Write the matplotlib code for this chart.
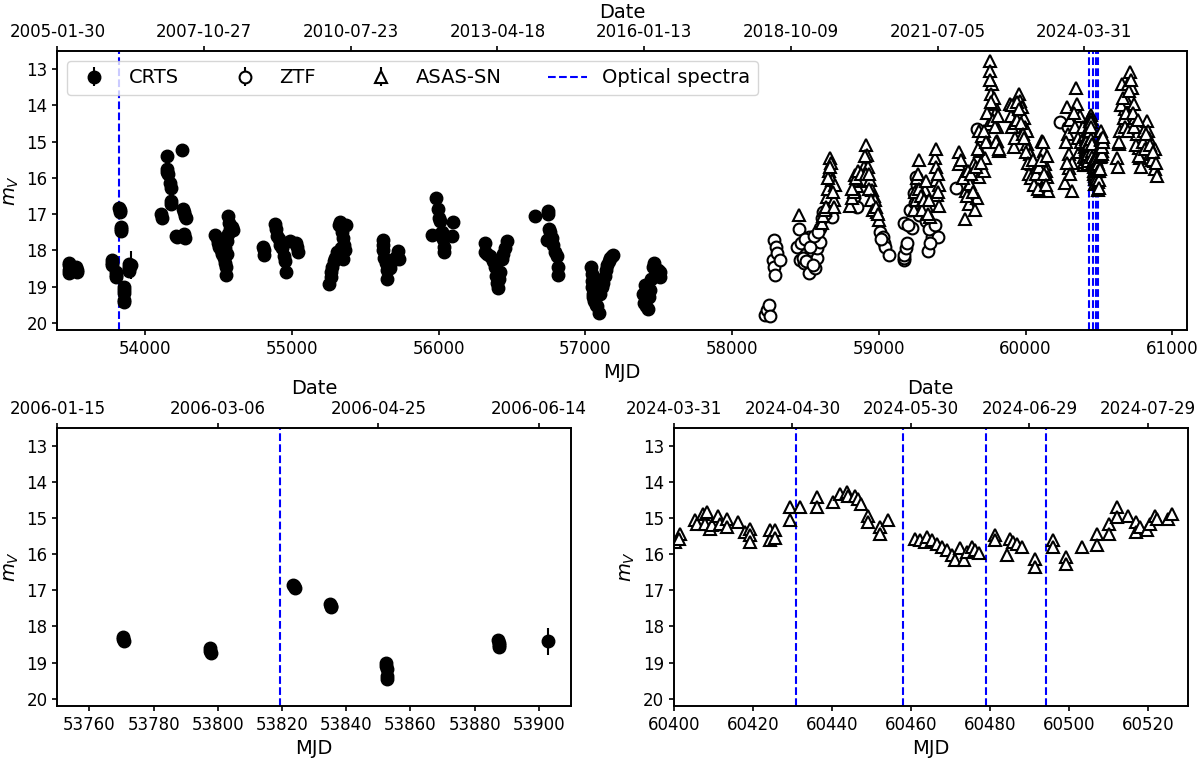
import numpy as np
import matplotlib
matplotlib.use("Agg")
import matplotlib.pyplot as plt
from datetime import datetime, timedelta

plt.rcParams['font.family'] = ['DejaVu Sans']
plt.rcParams['axes.linewidth'] = 1.2
plt.rcParams['xtick.major.width'] = 1.2
plt.rcParams['ytick.major.width'] = 1.2

# ---------------- data ----------------
crts_mjd = [53476, 53478, 53480, 53482, 53485, 53505, 53530, 53533, 53536,
            53770.4, 53770.6, 53770.8, 53797.5, 53797.7, 53797.9, 53823.5, 53823.7, 53823.9,
            53835.0, 53835.2, 53835.4, 53852.4, 53852.5, 53852.6, 53852.7, 53852.8,
            53887.4, 53887.5, 53887.6, 53887.7, 53902.8,
            54105, 54110, 54148, 54146, 54150, 54155, 54168, 54172, 54175, 54178, 54210, 54215,
            54248, 54255, 54262, 54270, 54275, 54265, 54272,
            54478, 54485, 54495, 54505, 54515, 54525, 54535, 54540, 54548, 54550, 54555, 54560,
            54565, 54570, 54580, 54590, 54600, 54545, 54555,
            54805, 54806, 54808, 54882, 54890, 54900, 54910, 54920, 54930, 54945, 54955, 54962,
            54985, 55030, 55035, 55038,
            55255, 55262, 55268, 55275, 55285, 55295, 55305, 55320, 55325, 55340, 55350, 55355,
            55360, 55345, 55365, 55335,
            55618, 55620, 55622, 55630, 55640, 55645, 55650, 55665, 55680, 55700, 55722, 55727,
            55952, 55980, 55998, 56003, 56008, 56010, 56020, 56030, 56035, 56038, 56088, 56100,
            56315, 56318, 56330, 56350, 56370, 56385, 56392, 56398, 56405, 56415, 56428, 56440,
            56450, 56463, 56410,
            56657, 56742, 56748, 56752, 56755, 56740, 56770, 56782, 56795, 56805, 56812, 56816,
            57040, 57042, 57044, 57046, 57050, 57054, 57060, 57070, 57078, 57095, 57100, 57110,
            57120, 57130, 57140, 57150, 57160, 57170, 57180, 57190, 57065, 57085,
            57395, 57400, 57407, 57412, 57425, 57430, 57440, 57450, 57460, 57470, 57480, 57495,
            57505, 57510, 57420]
crts_mag = [18.40, 18.55, 18.35, 18.62, 18.48, 18.52, 18.45, 18.60, 18.55,
            18.28, 18.34, 18.40, 18.60, 18.67, 18.74, 16.84, 16.88, 16.93,
            17.37, 17.42, 17.46, 19.00, 19.10, 19.18, 19.38, 19.44,
            18.38, 18.45, 18.52, 18.58, 18.41,
            17.00, 17.10, 15.40, 15.75, 15.85, 15.90, 16.15, 16.28, 16.65, 16.72, 17.60, 17.62,
            15.22, 16.85, 16.95, 17.05, 17.12, 17.55, 17.65,
            17.58, 17.65, 17.80, 17.90, 18.00, 18.10, 18.20, 18.35, 18.68, 18.45, 17.75, 17.55,
            17.05, 17.25, 17.40, 17.35, 17.45, 17.95, 18.10,
            17.90, 18.00, 18.12, 17.28, 17.40, 17.60, 17.70, 17.85, 17.95, 18.15, 18.30, 18.60,
            17.75, 17.80, 17.92, 18.05,
            18.92, 18.75, 18.60, 18.45, 18.30, 18.20, 18.05, 17.30, 17.22, 17.50, 17.65, 17.85,
            18.00, 18.25, 17.30, 17.95,
            17.72, 17.85, 18.00, 18.20, 18.35, 18.55, 18.80, 18.50, 18.30, 18.20, 18.02, 18.25,
            17.58, 16.55, 16.85, 17.10, 17.20, 17.55, 17.50, 17.70, 17.90, 18.05, 17.60, 17.22,
            17.80, 18.05, 18.10, 18.15, 18.30, 18.45, 18.70, 18.90, 19.05, 18.60, 18.25, 18.10,
            17.95, 17.75, 18.80,
            17.05, 17.00, 16.92, 17.40, 17.50, 17.72, 17.65, 17.85, 18.05, 18.15, 18.45, 18.68,
            18.45, 18.65, 18.85, 19.00, 19.20, 19.30, 19.40, 19.50, 19.55, 19.72, 19.20, 19.00,
            18.90, 18.70, 18.55, 18.40, 18.30, 18.20, 18.15, 18.13, 18.80, 19.10,
            19.20, 19.45, 18.95, 19.55, 19.62, 19.30, 19.10, 18.80, 18.45, 18.35, 18.55, 18.55,
            18.75, 18.60, 19.00]
crts_err = [0.06, 0.06, 0.06, 0.07, 0.06, 0.06, 0.06, 0.07, 0.06,
            0.06, 0.06, 0.06, 0.07, 0.07, 0.07, 0.05, 0.05, 0.05,
            0.05, 0.05, 0.05, 0.09, 0.10, 0.10, 0.15, 0.18,
            0.06, 0.06, 0.07, 0.07, 0.38,
            0.05, 0.05, 0.04, 0.04, 0.04, 0.04, 0.04, 0.04, 0.05, 0.05, 0.05, 0.05,
            0.04, 0.05, 0.05, 0.05, 0.05, 0.05, 0.05,
            0.05, 0.05, 0.06, 0.06, 0.06, 0.06, 0.06, 0.07, 0.08, 0.07, 0.05, 0.05,
            0.05, 0.05, 0.05, 0.05, 0.05, 0.06, 0.06,
            0.06, 0.06, 0.06, 0.05, 0.05, 0.05, 0.05, 0.06, 0.06, 0.06, 0.07, 0.08,
            0.05, 0.06, 0.06, 0.06,
            0.09, 0.08, 0.08, 0.07, 0.07, 0.06, 0.06, 0.05, 0.05, 0.05, 0.05, 0.06,
            0.06, 0.06, 0.05, 0.06,
            0.05, 0.06, 0.06, 0.06, 0.07, 0.07, 0.08, 0.07, 0.07, 0.06, 0.06, 0.06,
            0.05, 0.04, 0.05, 0.05, 0.05, 0.05, 0.05, 0.05, 0.06, 0.06, 0.05, 0.05,
            0.06, 0.06, 0.06, 0.06, 0.07, 0.07, 0.08, 0.09, 0.10, 0.08, 0.07, 0.06,
            0.06, 0.05, 0.09,
            0.05, 0.05, 0.05, 0.05, 0.05, 0.05, 0.05, 0.06, 0.06, 0.06, 0.07, 0.08,
            0.07, 0.08, 0.09, 0.09, 0.10, 0.11, 0.12, 0.13, 0.13, 0.15, 0.10, 0.09,
            0.09, 0.08, 0.08, 0.07, 0.07, 0.06, 0.06, 0.06, 0.08, 0.10,
            0.11, 0.12, 0.09, 0.13, 0.14, 0.11, 0.10, 0.09, 0.07, 0.07, 0.08, 0.08,
            0.08, 0.08, 0.09]

ztf_mjd = [58225, 58237, 58248, 58255, 58277, 58282, 58287, 58293, 58300, 58309, 58327,
           58441, 58459, 58464, 58487, 58500, 58514, 58521, 58521, 58540, 58566, 58578, 58578,
           58600, 58600, 58618, 58657, 58680, 58828, 58850,
           58470, 58480, 58495, 58505, 58530, 58550, 58560, 58585, 58610, 58630,
           59009, 59027, 59035, 59043, 59066, 59168, 59170, 59173, 59187, 59191, 59173,
           59225, 59237, 59255, 59271, 59334, 59362, 59400, 59350,
           59015, 59200, 59215, 59245, 59262, 59300, 59320, 59340, 59380,
           59528, 59669, 59700, 60238, 60290]
ztf_mag = [19.78, 19.65, 19.52, 19.82, 18.27, 17.72, 18.45, 18.68, 17.90, 18.08, 18.27,
           17.90, 17.42, 18.27, 18.36, 18.10, 17.81, 18.64, 17.62, 18.00, 18.50, 18.22, 17.95,
           17.76, 17.39, 16.93, 16.79, 17.07, 16.52, 16.80,
           17.80, 18.20, 17.70, 18.30, 17.90, 18.40, 17.60, 17.50, 17.10, 17.00,
           17.49, 17.62, 17.80, 17.90, 18.13, 18.27, 18.20, 18.13, 17.95, 17.81, 17.24,
           17.39, 16.43, 15.97, 17.02, 18.01, 17.62, 17.62, 17.80,
           17.70, 17.30, 16.90, 16.70, 16.20, 16.90, 17.20, 17.40, 17.30,
           16.27, 14.66, 15.00, 14.45, 14.60]
ztf_err = 0.03

asassn_mjd = [58457, 58612, 58620, 58634, 58646, 58655, 58660, 58668, 58672, 58680, 58691, 58703,
              58640, 58650, 58665, 58685, 58695,
              58805, 58816, 58830, 58839, 58850, 58870, 58891, 58900, 58914, 58918, 58925, 58941,
              58952, 58965, 58975, 58987, 58998,
              58820, 58845, 58860, 58880, 58905, 58910, 58930, 58935, 58945, 58960, 58980, 58992,
              59237, 59250, 59271, 59282, 59290, 59300, 59316, 59327, 59350, 59384, 59391, 59391,
              59396, 59407, 59410,
              59245, 59260, 59265, 59275, 59285, 59295, 59310, 59320, 59335, 59340, 59388, 59400,
              59405,
              59544, 59544, 59589, 59596, 59589, 59612, 59623, 59646, 59655, 59669, 59680, 59691,
              59703, 59714, 59725, 59737, 59748, 59759, 59760, 59771, 59762, 59782, 59787, 59793,
              59805, 59806, 59816,
              59560, 59575, 59600, 59605, 59630, 59640, 59660, 59675, 59685, 59695, 59720, 59730,
              59740, 59755, 59765, 59775, 59795, 59800, 59810, 59820,
              59896, 59907, 59919, 59919, 59930, 59953, 59964, 59975, 59987, 59998, 60009, 60009,
              60020, 60032, 60044, 60055, 60066, 60078, 60090, 60100, 60112, 60123, 60134, 60140,
              60146, 60150,
              59900, 59910, 59925, 59940, 59945, 59958, 59970, 59980, 59992, 60003, 60015, 60026,
              60038, 60050, 60060, 60072, 60085, 60095, 60106, 60118, 60128, 60138, 60145,
              60271, 60282, 60290, 60294, 60294, 60316, 60320, 60346, 60350, 60360, 60373, 60384,
              60396,
              60275, 60285, 60300, 60305, 60330, 60340, 60355, 60365, 60378, 60390,
              60400.3, 60401.5, 60401.4, 60405.3, 60405.8, 60407.4, 60408.3, 60407.9, 60409.1,
              60409.6, 60411.2, 60411.7, 60413.4, 60413.4, 60416.3, 60418.0, 60419.3, 60419.3,
              60419.3, 60424.2, 60424.2, 60425.6, 60425.6, 60429.4, 60429.4, 60431.9, 60436.1,
              60436.1, 60440.2, 60442.0, 60443.7, 60444.1, 60445.8, 60446.7, 60447.3, 60449.0,
              60449.2, 60452.2, 60452.2, 60454.3,
              60461.0, 60462.3, 60463.6, 60464.0, 60465.2, 60466.5, 60467.8, 60469.0, 60470.3,
              60471.1, 60472.4, 60473.3, 60474.1, 60475.4, 60476.2, 60477.3,
              60481.3, 60481.3, 60484.2, 60485.1, 60485.9, 60486.8, 60488.0, 60491.4, 60491.4,
              60496.0, 60496.0, 60499.2, 60499.2, 60503.2, 60507.2, 60507.2, 60510.1, 60510.1,
              60512.1, 60512.1, 60515.0, 60517.0, 60517.0, 60518.0, 60519.7, 60520.5, 60521.8,
              60522.2, 60525.1, 60526.0,
              60623, 60634, 60646, 60657, 60660, 60669, 60680, 60691, 60700, 60714, 60725, 60737,
              60748, 60759, 60771, 60782, 60790, 60805, 60828, 60835, 60839, 60850, 60873, 60885,
              60896, 60880,
              60630, 60640, 60650, 60665, 60675, 60685, 60695, 60705, 60720, 60730, 60742, 60755,
              60765, 60776, 60800, 60815, 60822, 60845, 60860, 60870, 60890]
asassn_mag = [17.04, 17.25, 17.05, 16.89, 16.52, 16.30, 15.80, 15.46, 15.60, 16.06, 16.61, 16.20,
              16.80, 16.00, 15.70, 16.40, 16.80,
              16.79, 16.56, 16.40, 15.92, 16.24, 16.10, 16.06, 15.69, 15.09, 15.37, 15.70, 16.06,
              16.33, 16.50, 16.61, 16.93, 17.16,
              16.30, 16.00, 15.80, 15.90, 15.40, 15.90, 15.90, 16.30, 16.60, 16.90, 16.80, 17.00,
              16.89, 16.60, 15.51, 16.15, 16.40, 16.61, 16.33, 16.79, 17.07, 15.46, 15.69, 16.06,
              16.47, 16.79, 16.20,
              16.40, 16.00, 15.90, 16.30, 16.50, 16.90, 16.60, 16.10, 17.00, 16.60, 15.20, 16.40,
              15.90,
              15.30, 15.63, 15.90, 16.36, 17.14, 16.73, 16.18, 15.63, 16.90, 16.55, 15.99, 15.26,
              14.84, 15.81, 15.44, 14.98, 14.52, 12.77, 13.05, 13.41, 13.69, 13.97, 13.80, 14.24,
              14.61, 14.98, 15.26,
              15.50, 16.00, 16.50, 15.80, 15.90, 16.40, 15.70, 15.20, 14.70, 15.60, 14.70, 15.00,
              14.20, 13.30, 13.90, 14.40, 14.60, 15.00, 14.30, 15.20,
              13.97, 14.61, 14.29, 15.16, 14.89, 13.69, 13.88, 14.06, 14.34, 14.61, 14.70, 15.07,
              15.20, 15.35, 15.63, 15.99, 15.80, 16.18, 16.00, 16.36, 14.98, 15.26, 15.63, 15.80,
              15.99, 16.36,
              14.30, 14.00, 14.50, 13.90, 14.40, 14.10, 14.50, 14.80, 14.90, 15.30, 15.60, 15.90,
              16.00, 15.50, 16.20, 15.90, 16.30, 15.70, 15.50, 15.00, 15.90, 16.20, 15.40,
              16.13, 14.06, 14.80, 15.35, 15.72, 16.36, 15.60, 13.51, 13.97, 14.50, 14.29, 14.80,
              15.26,
              15.00, 15.60, 14.40, 15.90, 14.20, 14.60, 14.90, 15.30, 15.00, 14.60,
              15.66, 15.43, 15.57, 15.06, 15.16, 14.88, 14.83, 15.16, 15.29,
              15.20, 14.93, 15.16, 15.02, 15.25, 15.11, 15.39, 15.29, 15.48,
              15.66, 15.34, 15.61, 15.34, 15.54, 14.70, 15.06, 14.68, 14.42,
              14.70, 14.56, 14.33, 14.28, 14.38, 14.38, 14.47, 14.61, 14.93,
              15.11, 15.25, 15.43, 15.06,
              15.57, 15.61, 15.66, 15.52, 15.61, 15.71, 15.80, 15.89, 16.03,
              16.17, 15.84, 16.17, 15.94, 15.80, 15.89, 15.98,
              15.48, 15.61, 16.03, 15.57, 15.66, 15.71, 15.80, 16.12, 16.35,
              15.61, 15.80, 16.07, 16.28, 15.80, 15.43, 15.75, 15.16, 15.43,
              14.70, 14.97, 14.93, 15.11, 15.39, 15.25, 15.34, 15.16, 14.93,
              15.02, 15.02, 14.88,
              15.44, 15.07, 14.70, 13.41, 14.00, 14.34, 14.10, 13.88, 13.40, 13.09, 13.51, 13.97,
              14.34, 14.80, 15.17, 15.44, 15.70, 14.70, 14.43, 14.70, 14.89, 15.35, 15.53, 15.76,
              15.95, 15.20,
              15.70, 15.00, 14.00, 13.80, 14.60, 14.20, 14.70, 13.60, 13.30, 14.20, 14.60, 15.10,
              14.40, 15.40, 15.00, 15.20, 14.80, 15.10, 15.50, 15.30, 15.60]
asassn_err = 0.05

spectra_mjd = [53819.4, 60430.9, 60457.9, 60478.9, 60494.1]

# panel x ranges and date tick spacing (days)
top_xlim = (53400, 61100)
left_xlim = (53750, 53910)
right_xlim = (60400, 60530)
top_step, left_step, right_step = 1000, 50, 30
ylims = (20.2, 12.5)


def mjd_to_date(m):
    return (datetime(1858, 11, 17) + timedelta(days=float(m))).strftime('%Y-%m-%d')


def draw(ax, xlim, step, show_legend=False):
    h1 = ax.errorbar(crts_mjd, crts_mag, yerr=crts_err, fmt='o', color='k', ms=9,
                     mfc='k', mec='k', elinewidth=1.5, capsize=0, label='CRTS')
    h2 = ax.errorbar(ztf_mjd, ztf_mag, yerr=ztf_err, fmt='o', color='k', ms=8.5,
                     mfc='white', mec='k', mew=1.5, elinewidth=1.5, capsize=0, label='ZTF')
    h3 = ax.errorbar(asassn_mjd, asassn_mag, yerr=asassn_err, fmt='^', color='k', ms=8,
                     mfc='white', mec='k', mew=1.5, elinewidth=1.5, capsize=0, label='ASAS-SN')
    lines = []
    for i, s in enumerate(spectra_mjd):
        lines.append(ax.axvline(s, color='blue', ls='--', lw=1.5, label='Optical spectra'))
    ax.set_xlim(*xlim)
    ax.set_ylim(*ylims)
    ax.set_yticks(range(13, 21))
    ax.tick_params(labelsize=12)
    ax.set_xlabel('MJD', fontsize=14)
    ax.set_ylabel(r'$m_V$', fontsize=14)
    if show_legend:
        ax.legend([h1, h2, h3, lines[0]], ['CRTS', 'ZTF', 'ASAS-SN', 'Optical spectra'],
                  loc='upper left', ncol=4, fontsize=14, columnspacing=2.35)
    ax2 = ax.twiny()
    ax2.set_xlim(*xlim)
    ticks = np.arange(xlim[0], xlim[1], step)
    ax2.set_xticks(ticks)
    ax2.set_xticklabels([mjd_to_date(t) for t in ticks])
    ax2.tick_params(labelsize=12)
    ax2.set_xlabel('Date', fontsize=14)


fig = plt.figure(figsize=(12, 7.63), dpi=100)
ax_top = fig.add_axes([0.0478, 0.5675, 0.9413, 0.3657])
ax_bl = fig.add_axes([0.0478, 0.0747, 0.428, 0.3647])
ax_br = fig.add_axes([0.5616, 0.0747, 0.428, 0.3647])

draw(ax_top, top_xlim, top_step, show_legend=True)
draw(ax_bl, left_xlim, left_step)
draw(ax_br, right_xlim, right_step)

fig.savefig('out.png', dpi=100)
